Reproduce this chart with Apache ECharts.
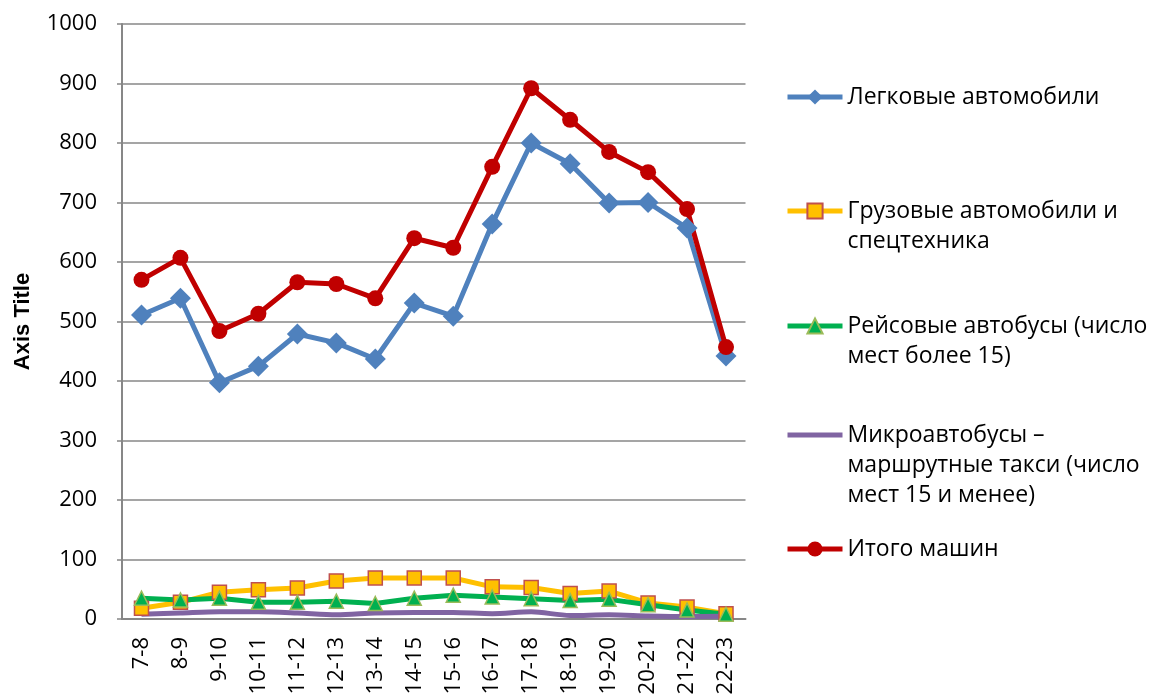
<!DOCTYPE html>
<html lang="ru">
<head>
    <meta charset="UTF-8">
    <title>Интенсивность движения</title>
    <script src="https://cdn.jsdelivr.net/npm/echarts@6/dist/echarts.min.js"></script>
    <style>
        html, body { margin: 0; padding: 0; background: #fff; }
        #chart { width: 1149px; height: 695px; }
    </style>
</head>
<body>
<div id="chart"></div>
<script>
    // интервалы времени
    var hours = ['7-8', '8-9', '9-10', '10-11', '11-12', '12-13', '13-14', '14-15',
        '15-16', '16-17', '17-18', '18-19', '19-20', '20-21', '21-22', '22-23'];

    var cars = [511, 539, 397, 425, 479, 464, 437, 531, 509, 664, 800, 765, 699, 700, 657, 442];
    var trucks = [18, 28, 45, 49, 52, 64, 69, 69, 69, 54, 53, 43, 47, 27, 20, 9];
    var buses = [35, 32, 35, 28, 28, 30, 26, 35, 40, 37, 34, 31, 33, 24, 15, 8];
    var minibuses = [8, 10, 12, 12, 10, 7, 10, 11, 11, 9, 12, 6, 7, 5, 4, 5];
    var total = [570, 607, 484, 513, 566, 563, 539, 640, 624, 760, 892, 839, 785, 751, 689, 457];

    var yTicks = [0, 100, 200, 300, 400, 500, 600, 700, 800, 900, 1000];

    var names = [
        'Легковые автомобили',
        'Грузовые автомобили и\nспецтехника',
        'Рейсовые автобусы (число\nмест более 15)',
        'Микроавтобусы –\nмаршрутные такси (число\nмест 15 и менее)',
        'Итого машин'
    ];

    var font = '"Open Sans", sans-serif';
    var gridColor = '#878787';
    var lineH = 30;

    // отдельная легенда на каждую серию, как в Excel;
    // значок стоит на уровне первой строки подписи
    var legendY = [97, 211, 326, 435, 549];
    var legends = names.map(function (n, i) {
        var lines = n.split('\n').length;
        var prefix = new Array(lines).join('\n');
        var boxH = (2 * lines - 1) * lineH;
        var item = { name: n };
        if (i === 3) {
            item.itemStyle = { opacity: 0 };
        }
        return {
            data: [item],
            left: 785,
            top: legendY[i] - boxH / 2,
            padding: 0,
            itemWidth: 55,
            itemHeight: 19,
            itemGap: 0,
            selectedMode: false,
            lineStyle: { width: 5 },
            formatter: function (name) { return prefix + name; },
            textStyle: {
                fontFamily: font,
                fontSize: 23,
                color: '#000',
                lineHeight: lineH
            }
        };
    });

    var chart = echarts.init(document.getElementById('chart'));
    var option = {
        animation: false,
        legend: legends,
        // подписи внизу обрезаются краем, как в оригинале
        grid: { left: 122, right: 403.5, top: 24, bottom: 76, outerBoundsMode: 'none' },
        xAxis: {
            type: 'category',
            data: hours,
            boundaryGap: true,
            axisLine: { lineStyle: { color: gridColor, width: 2 } },
            axisTick: { show: false },
            axisLabel: {
                rotate: 90,
                margin: 18,
                fontFamily: font,
                fontSize: 22,
                color: '#000'
            }
        },
        yAxis: {
            type: 'value',
            min: yTicks[0],
            max: yTicks[yTicks.length - 1],
            interval: 100,
            name: 'Axis Title',
            nameLocation: 'middle',
            nameRotate: 90,
            nameGap: 88,
            nameTextStyle: {
                fontFamily: '"Liberation Sans", sans-serif',
                fontWeight: 'bold',
                fontSize: 22,
                color: '#000'
            },
            axisLine: { show: true, lineStyle: { color: gridColor, width: 2 } },
            axisTick: { show: true, length: 5, lineStyle: { color: gridColor, width: 1.5 } },
            axisLabel: {
                margin: 25,
                fontFamily: font,
                fontSize: 22,
                color: '#000',
                formatter: function (v) { return String(v); }
            },
            splitLine: { lineStyle: { color: gridColor, width: 1.5 } }
        },
        series: [
            {
                name: names[0], type: 'line', data: cars,
                symbol: 'diamond', symbolSize: 21,
                lineStyle: { color: '#4F81BD', width: 5 },
                itemStyle: { color: '#4F81BD' }
            },
            {
                name: names[1], type: 'line', data: trucks,
                symbol: 'rect', symbolSize: 14,
                lineStyle: { color: '#FFC000', width: 5 },
                itemStyle: { color: '#FFC000', borderColor: '#C0504D', borderWidth: 1.5 }
            },
            {
                name: names[2], type: 'line', data: buses,
                symbol: 'triangle', symbolSize: 14,
                lineStyle: { color: '#00B050', width: 5 },
                itemStyle: { color: '#00B050', borderColor: '#9BBB59', borderWidth: 1.5 }
            },
            {
                name: names[3], type: 'line', data: minibuses,
                symbol: 'none', smooth: 0.3,
                lineStyle: { color: '#8064A2', width: 5 },
                itemStyle: { color: '#8064A2' }
            },
            {
                name: names[4], type: 'line', data: total,
                symbol: 'circle', symbolSize: 16,
                lineStyle: { color: '#C00000', width: 5 },
                itemStyle: { color: '#C00000' }
            }
        ]
    };
    chart.setOption(option);
</script>
</body>
</html>
